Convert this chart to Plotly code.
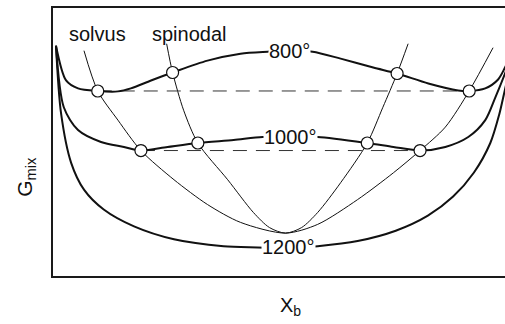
import plotly.graph_objects as go

# Free energy of mixing curves, G_mix vs X_b (arbitrary G units)
g800_x = [0.0, 0.022, 0.048, 0.091, 0.135, 0.163, 0.207, 0.254, 0.330, 0.402, 0.461, 0.509,
          0.559, 0.620, 0.691, 0.743, 0.811, 0.876, 0.900, 0.935, 0.963, 0.978, 1.0]
g800_y = [0.0, -0.875, -1.075, -1.14, -1.15, -1.075, -0.875, -0.675, -0.375, -0.20, -0.15, -0.125,
          -0.15, -0.325, -0.55, -0.70, -0.95, -1.125, -1.14, -1.075, -0.85, -0.55, 0.0]

g1000_x = [0.0, 0.017, 0.048, 0.098, 0.148, 0.185, 0.243, 0.309, 0.387, 0.450, 0.511, 0.570,
           0.678, 0.735, 0.793, 0.848, 0.898, 0.935, 0.957, 0.978, 1.0]
g1000_y = [0.0, -1.55, -2.125, -2.425, -2.55, -2.64, -2.55, -2.45, -2.375, -2.30, -2.30, -2.30,
           -2.45, -2.55, -2.64, -2.55, -2.30, -1.875, -1.30, -0.70, 0.0]

g1200_x = [0.0, 0.011, 0.033, 0.061, 0.104, 0.170, 0.257, 0.365, 0.439, 0.504, 0.570, 0.657,
           0.740, 0.810, 0.865, 0.910, 0.946, 0.965, 0.978, 1.0]
g1200_y = [0.0, -1.70, -2.95, -3.625, -4.125, -4.55, -4.875, -5.05, -5.08, -5.10, -5.05, -4.92,
           -4.66, -4.28, -3.80, -3.20, -2.45, -1.75, -1.10, 0.0]

# Solvus and spinodal loci
solvus_x = [0.061, 0.091, 0.135, 0.185, 0.257, 0.330, 0.402, 0.500, 0.570, 0.657, 0.735,
            0.793, 0.848, 0.900, 0.952]
solvus_y = [-0.125, -1.14, -1.875, -2.64, -3.375, -4.00, -4.45, -4.72, -4.50, -3.875, -3.20,
            -2.64, -2.05, -1.14, -0.05]

spinodal_x = [0.241, 0.254, 0.278, 0.309, 0.374, 0.430, 0.465, 0.500, 0.535, 0.570, 0.620,
              0.678, 0.712, 0.743, 0.767]
spinodal_y = [0.05, -0.675, -1.625, -2.45, -3.375, -4.20, -4.58, -4.72, -4.58, -4.20, -3.45,
              -2.45, -1.55, -0.70, 0.05]

# Intersection points marked with open circles
circ_x = [0.091, 0.900, 0.254, 0.743, 0.185, 0.793, 0.309, 0.678]
circ_y = [-1.14, -1.14, -0.675, -0.70, -2.64, -2.64, -2.45, -2.45]

# Common-tangent (tie) lines
tie800_x = [0.091, 0.900]
tie800_y = [-1.14, -1.14]
tie1000_x = [0.185, 0.793]
tie1000_y = [-2.64, -2.64]

temps = ["800°", "1000°", "1200°"]
temp_label_x = [0.509, 0.511, 0.507]
temp_label_y = [-0.125, -2.30, -5.075]

FONT = "Liberation Sans, Arial, sans-serif"

fig = go.Figure()

for xs, ys in [(solvus_x, solvus_y), (spinodal_x, spinodal_y)]:
    fig.add_trace(go.Scatter(x=xs, y=ys, mode="lines",
                             line=dict(color="#111111", width=1, shape="spline", smoothing=0.8)))

for xs, ys in [(tie800_x, tie800_y), (tie1000_x, tie1000_y)]:
    fig.add_trace(go.Scatter(x=xs, y=ys, mode="lines",
                             line=dict(color="#333333", width=1, dash="14px,9px")))

for xs, ys in [(g800_x, g800_y), (g1000_x, g1000_y), (g1200_x, g1200_y)]:
    fig.add_trace(go.Scatter(x=xs, y=ys, mode="lines",
                             line=dict(color="#111111", width=2, shape="spline", smoothing=0.8)))

fig.add_trace(go.Scatter(x=circ_x, y=circ_y, mode="markers",
                         marker=dict(size=12, color="white",
                                     line=dict(color="#111111", width=1.2))))

for t, tx, ty in zip(temps, temp_label_x, temp_label_y):
    fig.add_annotation(x=tx, y=ty, text=t, showarrow=False, bgcolor="white",
                       borderpad=0, font=dict(size=20, color="#111111", family=FONT))

fig.add_annotation(x=0.091, y=0.30, text="solvus", showarrow=False,
                   font=dict(size=20, color="#111111", family=FONT))
fig.add_annotation(x=0.291, y=0.30, text="spinodal", showarrow=False,
                   font=dict(size=20, color="#111111", family=FONT))

fig.add_annotation(x=-0.06, y=0.37, xref="paper", yref="paper", text="G<sub>mix</sub>",
                   textangle=-90, showarrow=False, xanchor="center", yanchor="middle",
                   font=dict(size=21, color="#111111", family=FONT))
fig.add_annotation(x=0.525, y=-0.115, xref="paper", yref="paper", text="X<sub>b</sub>",
                   showarrow=False, xanchor="center", yanchor="middle",
                   font=dict(size=20, color="#111111", family=FONT))

fig.update_xaxes(range=[-0.0065, 0.978], showgrid=False, zeroline=False, showticklabels=False,
                 ticks="", showline=True, linewidth=2, linecolor="#1a1a1a", mirror=True)
fig.update_yaxes(range=[-5.8, 0.95], showgrid=False, zeroline=False, showticklabels=False,
                 ticks="", showline=True, linewidth=2, linecolor="#1a1a1a", mirror=False)

fig.update_layout(width=505, height=324, margin=dict(l=53, r=0, t=8, b=48),
                  paper_bgcolor="white", plot_bgcolor="white", showlegend=False,
                  hovermode=False, font=dict(family=FONT))

fig.write_html("out.html")
